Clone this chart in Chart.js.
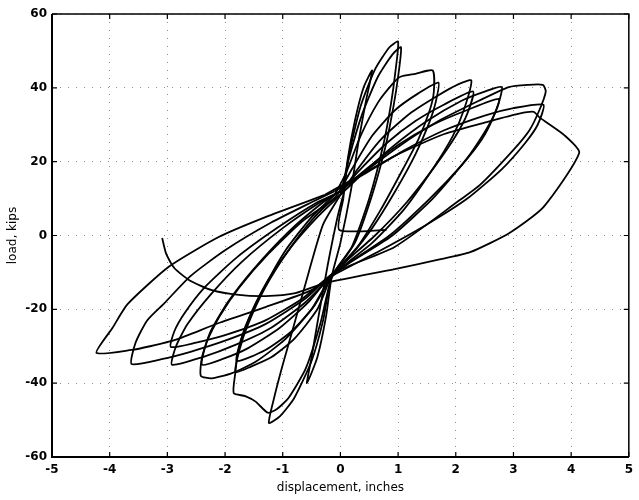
<!DOCTYPE html>
<html>
<head>
<meta charset="utf-8">
<script src="https://cdn.jsdelivr.net/npm/chart.js@4/dist/chart.umd.min.js"></script>
<style>
  html, body { margin: 0; padding: 0; background: #fff; }
  #c { display: block; }
</style>
</head>
<body>
<canvas id="c" width="639" height="500"></canvas>
<script>
// ---- tick labels ----
const xTicks = [-5, -4, -3, -2, -1, 0, 1, 2, 3, 4, 5];
const yTicks = [-60, -40, -20, 0, 20, 40, 60];

// ---- recorded load (kips) vs displacement (inches), cycle by cycle ----
const start = [[0.8,1.5],[-0.02,1.5],[0.05,10]];
const cycle01 = [[0.05,10],[0.12,20],[0.25,31],[0.4,40],[0.55,44.7],[0.45,37],[0.32,26],[0.18,12],[0.0,-2],[-0.15,-11],[-0.25,-22],[-0.4,-33],[-0.58,-40],[-0.5,-33],[-0.38,-22],[-0.22,-8],[-0.05,5],[0.05,11]];
const cycle02 = [[0.05,11],[0.15,22],[0.35,35],[0.6,45],[0.85,51],[1.0,52.5],[0.95,44],[0.88,36],[0.75,25],[0.5,10],[0.2,-3],[-0.15,-11],[-0.3,-23],[-0.5,-34],[-0.8,-44],[-1.05,-49],[-1.24,-50.8],[-1.15,-44],[-1.0,-35],[-0.8,-24],[-0.55,-10],[-0.3,3],[0.0,11]];
const cycle03 = [[0.0,11],[0.15,21],[0.38,33],[0.65,43],[0.9,49],[1.05,51],[1.0,43],[0.92,35],[0.78,24],[0.55,11],[0.25,-2],[-0.15,-11.5],[-0.35,-24],[-0.6,-36],[-0.9,-44],[-1.1,-47],[-1.26,-48],[-1.47,-45],[-1.65,-43.5],[-1.85,-42.7],[-1.82,-37],[-1.78,-32],[-1.65,-25],[-1.35,-15],[-0.95,-4],[-0.5,5],[-0.1,11]];
const cycle04 = [[-0.1,11],[0.1,17],[0.35,27],[0.65,36],[0.9,41],[1.04,43],[1.3,43.8],[1.6,44.7],[1.62,39],[1.55,34],[1.35,26],[1.05,17],[0.7,7],[0.3,-3],[-0.15,-11],[-0.4,-20],[-0.8,-28],[-1.2,-33],[-1.55,-35.5],[-1.82,-37],[-1.75,-31],[-1.6,-24],[-1.3,-14],[-0.9,-4],[-0.45,5],[-0.05,11]];
const cycle05 = [[-0.05,11],[0.2,18],[0.55,27],[0.95,34],[1.35,38.5],[1.7,41.4],[1.65,36],[1.55,31],[1.3,22],[0.95,12],[0.55,2],[0.15,-6],[-0.15,-11],[-0.45,-19],[-0.85,-26],[-1.3,-31],[-1.8,-34],[-1.72,-28],[-1.55,-21],[-1.25,-12],[-0.85,-3],[-0.4,5],[0.0,11]];
const cycle06 = [[0.0,11],[0.3,18],[0.7,26],[1.2,33],[1.7,38],[2.05,41],[2.27,42],[2.14,34],[1.95,27],[1.6,18],[1.1,7],[0.55,-2],[-0.15,-11],[-0.5,-20],[-0.95,-28],[-1.45,-34],[-1.88,-37.3],[-2.23,-38.7],[-2.42,-38],[-2.4,-33],[-2.25,-26],[-1.95,-18],[-1.5,-9],[-0.9,1],[-0.3,9],[0.0,12]];
const cycle07 = [[0.0,12],[0.35,18],[0.8,25],[1.3,31],[1.8,35.5],[2.3,39],[2.2,33],[2.0,27],[1.65,19],[1.15,9],[0.6,0],[-0.15,-10.5],[-0.55,-18],[-1.05,-25],[-1.6,-30.5],[-2.05,-33.5],[-2.4,-35],[-2.32,-29],[-2.1,-22],[-1.75,-14],[-1.25,-5],[-0.65,4],[0.0,11]];
const cycle08 = [[0.0,11],[0.4,17],[0.9,24],[1.5,31],[2.1,36.5],[2.5,39],[2.8,40.2],[2.7,34],[2.5,28],[2.15,20],[1.6,10],[0.9,0],[0.2,-7],[-0.15,-11],[-0.6,-18],[-1.2,-25],[-1.8,-29.5],[-2.4,-33],[-2.92,-35],[-2.85,-30],[-2.65,-24],[-2.25,-16],[-1.7,-7],[-1.0,2],[-0.35,9],[0.0,12]];
const cycle09 = [[0.0,12],[0.45,18],[1.0,24.5],[1.6,30],[2.2,34],[2.75,37],[2.65,32],[2.45,26],[2.1,19],[1.55,10],[0.85,0],[-0.15,-10.5],[-0.65,-17],[-1.3,-23],[-2.0,-27],[-2.5,-29],[-2.94,-30.2],[-2.88,-26],[-2.7,-21],[-2.35,-14],[-1.8,-6],[-1.1,2],[-0.4,9],[-0.05,11.5]];
const cycle10 = [[-0.05,11.5],[0.4,17],[1.0,24],[1.7,31],[2.4,36.5],[2.92,40.2],[3.25,40.8],[3.51,40.8],[3.56,39],[3.45,34],[3.28,28.6],[3.0,23.2],[2.42,13.7],[2.07,9.6],[0.94,-3.1],[-0.1,-10],[-0.6,-17],[-1.3,-24],[-2.0,-28.5],[-2.6,-31.5],[-3.1,-33.5],[-3.62,-34.8],[-3.55,-29],[-3.35,-23],[-3.05,-18.3],[-2.6,-11],[-2.0,-4],[-1.2,3.5],[-0.5,9],[-0.1,12]];
const cycle11 = [[-0.1,12],[0.4,16.5],[1.1,23],[1.8,28.5],[2.5,32.5],[3.0,34.5],[3.52,35.4],[3.42,30],[3.2,25],[2.8,18],[2.2,10],[1.5,3],[0.7,-4],[-0.15,-11],[-0.5,-14.8],[-1.3,-19.4],[-2.11,-23.7],[-2.85,-28.2],[-3.3,-30],[-3.62,-31],[-4.23,-31.8],[-3.95,-25],[-3.69,-18.6],[-2.97,-8.4],[-2.11,-0.4],[-1.3,5],[-0.27,11]];
const cycle12 = [[-0.27,11],[0.3,16],[1.0,22],[1.8,27.5],[2.6,31],[3.1,33],[3.35,33.5],[3.45,32],[3.88,27.2],[4.14,22.4],[3.52,7.7],[2.93,0.7],[2.25,-4.5],[1.68,-6.6],[0.94,-9.1],[-0.27,-12.9],[-0.78,-15.6],[-1.3,-16.4],[-1.76,-16.1],[-2.23,-14.8],[-2.62,-12.1],[-2.88,-8.8],[-3.02,-5],[-3.09,-0.7]];

const cycles = [start, cycle01, cycle02, cycle03, cycle04, cycle05, cycle06, cycle07, cycle08, cycle09, cycle10, cycle11, cycle12];

const datasets = cycles.map(c => ({
  data: c.map(p => ({x: p[0], y: p[1]})),
  showLine: true,
  borderColor: '#000',
  borderWidth: 1.8,
  pointRadius: 0,
  tension: 0.2,
  fill: false
}));

const FONT = "'DejaVu Sans', sans-serif";

const framePlugin = {
  id: 'frame',
  afterDatasetsDraw(chart) {
    const {ctx, chartArea: a, scales: {x, y}} = chart;
    ctx.save();
    ctx.strokeStyle = '#000';
    ctx.lineWidth = 1.2;
    ctx.beginPath();
    xTicks.forEach(v => {
      const px = x.getPixelForValue(v);
      ctx.moveTo(px, a.bottom); ctx.lineTo(px, a.bottom - 5);
      ctx.moveTo(px, a.top); ctx.lineTo(px, a.top + 5);
    });
    yTicks.forEach(v => {
      const py = y.getPixelForValue(v);
      ctx.moveTo(a.left, py); ctx.lineTo(a.left + 5, py);
      ctx.moveTo(a.right, py); ctx.lineTo(a.right - 5, py);
    });
    ctx.stroke();
    ctx.lineWidth = 2;
    ctx.beginPath();
    ctx.moveTo(a.left, a.top); ctx.lineTo(a.left, a.bottom); ctx.lineTo(a.right, a.bottom);
    ctx.stroke();
    ctx.lineWidth = 1.5;
    ctx.beginPath();
    ctx.moveTo(a.left, a.top); ctx.lineTo(a.right, a.top); ctx.lineTo(a.right, a.bottom);
    ctx.stroke();
    ctx.restore();
  }
};

new Chart(document.getElementById('c'), {
  type: 'scatter',
  data: { datasets },
  options: {
    responsive: false,
    animation: false,
    devicePixelRatio: 1,
    layout: { padding: { top: 14, right: 6, left: 0, bottom: 0 } },
    plugins: { legend: { display: false }, tooltip: { enabled: false } },
    scales: {
      x: {
        type: 'linear', min: -5, max: 5,
        afterBuildTicks: s => { s.ticks = xTicks.map(v => ({value: v})); },
        afterFit: s => { s.height = 43; },
        ticks: { color: '#000', font: { family: FONT, size: 12, weight: 'bold' }, padding: 6, maxRotation: 0 },
        grid: { color: 'rgba(0,0,0,0.45)', lineWidth: 1, drawTicks: false },
        border: { display: false, dash: [1, 7] },
        title: { display: true, text: 'displacement, inches', color: '#000', font: { family: FONT, size: 12 }, padding: { top: 0, bottom: 5 } }
      },
      y: {
        type: 'linear', min: -60, max: 60,
        afterBuildTicks: s => { s.ticks = yTicks.map(v => ({value: v})); },
        afterFit: s => { s.width = 52; },
        ticks: { color: '#000', font: { family: FONT, size: 12, weight: 'bold' }, padding: 5 },
        grid: { color: 'rgba(0,0,0,0.45)', lineWidth: 1, drawTicks: false },
        border: { display: false, dash: [1, 7] },
        title: { display: true, text: 'load, kips', color: '#000', font: { family: FONT, size: 12 }, padding: { top: 6, bottom: 0 } }
      }
    }
  },
  plugins: [framePlugin]
});
</script>
</body>
</html>
